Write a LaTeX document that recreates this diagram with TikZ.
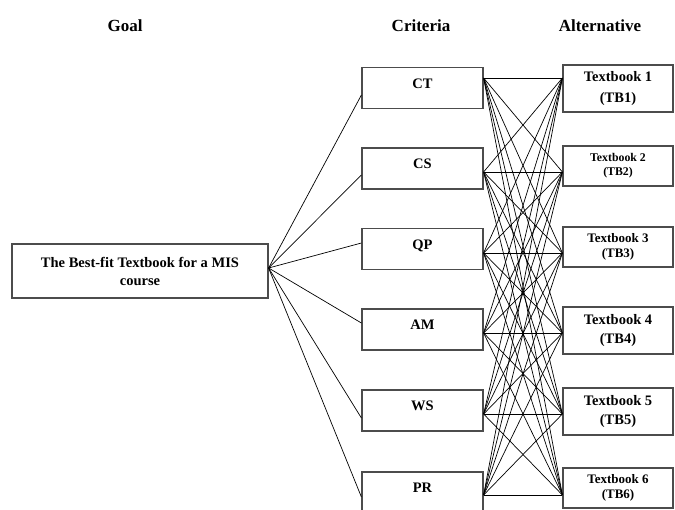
\documentclass[tikz,border=0pt]{standalone}
\usepackage{fontspec}
\setmainfont{Liberation Serif}
\usetikzlibrary{calc}
\tikzset{
  box/.style={draw=black!70, line width=1.2pt, rectangle, align=center, inner sep=0pt},
  crit/.style={box, minimum width=121pt, minimum height=41pt, text height=10pt, text depth=10pt,
    font=\fontsize{14.5}{17}\selectfont\bfseries},
  alt/.style={box, minimum width=110pt},
  head/.style={font=\fontsize{17}{20}\selectfont\bfseries},
  link/.style={line width=0.7pt}
}
\begin{document}
\begin{tikzpicture}[x=1pt,y=-1pt]
\clip (0,0) rectangle (675,509);

\node[head] (hgoal) at (125,26) {Goal};
\node[head] (hcrit) at (421,26) {Criteria};
\node[head] (halt) at (600,26) {Alternative};

\node[box, minimum width=256pt, minimum height=54pt, font=\fontsize{14.5}{18}\selectfont\bfseries]
  (goal) at (140,271) {The Best-fit Textbook for a MIS\\course};

\foreach \n/\t/\y in {ct/CT/88, cs/CS/168.5, qp/QP/249, am/AM/329.5, ws/WS/410.5, pr/PR/492.5}
  \node[crit] (\n) at (422.5,\y) {\t};

\foreach \n/\k/\y/\h/\s/\l in {tb1/1/88.5/47/14.5/21, tb2/2/166/40/11.8/14, tb3/3/247/40/13/15,
    tb4/4/330.5/47/14.5/19, tb5/5/411.5/47/14.5/19, tb6/6/488/40/13/15}
  \node[alt, minimum height=\h pt, font=\fontsize{\s}{\l}\selectfont\bfseries]
    (\n) at (618,\y) {Textbook \k\\(TB\k)};

\coordinate (hub) at ($(goal.east)+(0,-3)$);
\foreach \n/\d in {ct/7, cs/6.5, qp/-6, am/-6.5, ws/7.5, pr/4.5}
  \draw[link] (hub) -- ($(\n.west)+(0,\d)$);

\foreach \n/\d/\i in {ct/-10/1, cs/3.5/2, qp/4/3, am/3.5/4, ws/3.5/5, pr/2.5/6}
  \coordinate (r\i) at ($(\n.east)+(0,\d)$);
\foreach \n/\d/\i in {tb1/-10.5/1, tb2/6/2, tb3/6/3, tb4/2.5/4, tb5/2.5/5, tb6/7/6}
  \coordinate (l\i) at ($(\n.west)+(0,\d)$);

\foreach \i in {1,...,6}
  \foreach \j in {1,...,6}
    \draw[link] (r\i) -- (l\j);
\end{tikzpicture}
\end{document}
